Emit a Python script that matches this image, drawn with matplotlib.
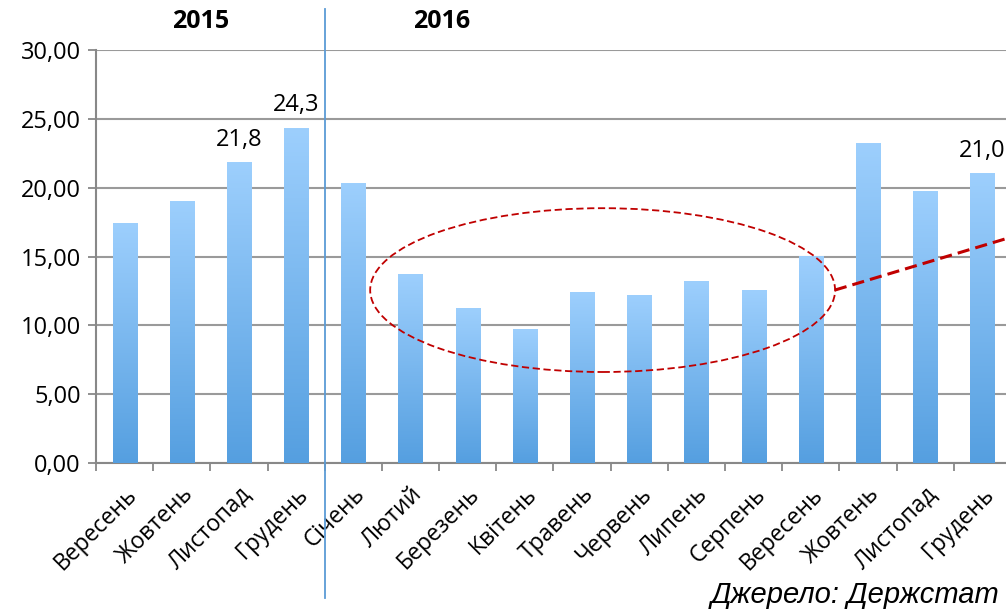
import numpy as np
from matplotlib import pyplot as plt
from matplotlib.patches import Ellipse
from matplotlib.colors import LinearSegmentedColormap

# monthly values, Sep 2015 .. Dec 2016
months = ['Вересень', 'Жовтень', 'Листопад', 'Грудень', 'Січень', 'Лютий',
          'Березень', 'Квітень', 'Травень', 'Червень', 'Липень', 'Серпень',
          'Вересень', 'Жовтень', 'Листопад', 'Грудень']
values = [17.4, 19.0, 21.8, 24.3, 20.3, 13.7, 11.2, 9.7, 12.4, 12.2, 13.2,
          12.5, 15.0, 23.2, 19.7, 21.0]
labelled = {2: '21,8', 3: '24,3', 15: '21,0'}
years = ['2015', '2016']
y_ticks = [0, 5, 10, 15, 20, 25, 30]
source = 'Джерело: Держстат'

plt.rcParams['font.family'] = ['Open Sans', 'DejaVu Sans']

fig = plt.figure(figsize=(10.06, 6.10), dpi=100)
ax = fig.add_axes([0.0954, 0.241, 0.9095, 0.677])

x = np.arange(len(values))
w = 0.42
grad = np.linspace(0, 1, 256).reshape(-1, 1)
cmap = LinearSegmentedColormap.from_list('bar', ['#9dcffd', '#559fe0'])
for xi, v in zip(x, values):
    ax.imshow(grad, extent=[xi - w / 2, xi + w / 2, 0, v], cmap=cmap,
              aspect='auto', zorder=3, interpolation='bilinear')

for i, txt in labelled.items():
    ax.annotate(txt, (x[i], values[i]), xytext=(0, 8), textcoords='offset points',
                ha='center', va='bottom', fontsize=17, annotation_clip=False)

ax.set_xlim(-0.5, len(values) - 0.5)
ax.set_ylim(0, 30)
ax.set_yticks(y_ticks)
ax.set_yticklabels([('%.2f' % t).replace('.', ',') for t in y_ticks], fontsize=17)
ax.yaxis.grid(True, color='#9a9a9a', lw=1.5, zorder=0)
ax.set_axisbelow(True)

ax.set_xticks(x)
ax.set_xticklabels(months, rotation=45, ha='right', rotation_mode='anchor', fontsize=16.5)
ax.tick_params(axis='x', length=0, pad=14)
ax.set_xticks(np.arange(-0.5, len(values)), minor=True)
ax.tick_params(axis='x', which='minor', length=6, color='#888888', width=1.3)
ax.tick_params(axis='y', length=6, color='#888888', width=1.3, pad=5)

for s in ['top', 'right']:
    ax.spines[s].set_visible(False)
for s in ['left', 'bottom']:
    ax.spines[s].set_color('#888888')
    ax.spines[s].set_linewidth(1.5)

# year divider
ax.axvline(3.5, ymin=-0.327, ymax=1.10, clip_on=False, color='#5b9bd5', lw=1.3, zorder=5)
fig.text(0.199, 0.964, years[0], ha='center', va='center', fontsize=18, fontweight='bold')
fig.text(0.439, 0.964, years[1], ha='center', va='center', fontsize=18, fontweight='bold')

# highlight
ax.add_patch(Ellipse((8.36, 12.56), 8.13, 11.9, fill=False, edgecolor='#c00000',
                     ls=(0, (4, 2)), lw=1.3, zorder=6))
ax.plot([12.42, 15.45], [12.56, 16.34], color='#c00000', ls=(0, (4, 2)), lw=2.2,
        clip_on=False, zorder=6)

fig.text(0.993, 1 - 603 / 610, source, ha='right', va='baseline', fontsize=21,
         style='italic', family=['Liberation Sans', 'DejaVu Sans'])

fig.savefig('out.png', dpi=100)
